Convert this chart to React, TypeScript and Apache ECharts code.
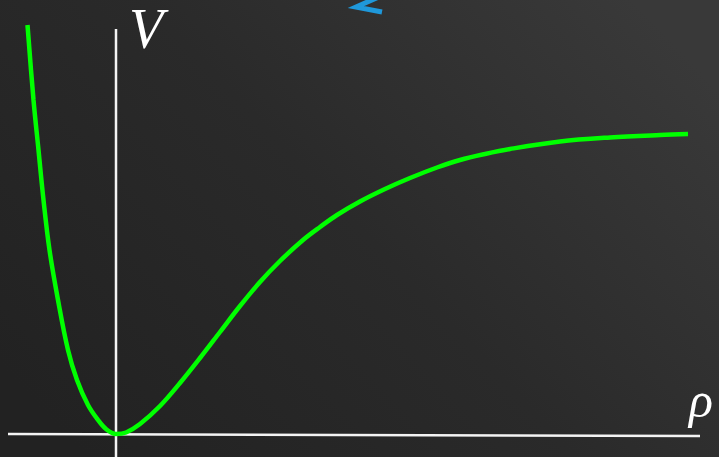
import React, { useEffect, useRef } from "react";
import * as echarts from "echarts";

// Potential curve V(ρ): steep repulsive wall on the left, well at ρ = 0,
// plateau approached on the right
const rho: number[] = [
  -0.885, -0.825, -0.775, -0.725, -0.665, -0.58, -0.48, -0.39, -0.28, -0.18, -0.1, 0,
  0.1, 0.24, 0.44, 0.64, 0.84, 1.04, 1.24, 1.44, 1.64, 1.87, 2.04, 2.21, 2.44, 2.69, 2.94,
  3.21, 3.44, 3.69, 3.94, 4.44, 4.94, 5.44, 5.72,
];
const potential: number[] = [
  4.09, 3.34, 2.84, 2.34, 1.84, 1.34, 0.84, 0.54, 0.29, 0.14, 0.05, 0,
  0.015, 0.1, 0.28, 0.51, 0.76, 1.02, 1.28, 1.52, 1.73, 1.94, 2.07, 2.19, 2.325, 2.45, 2.56,
  2.665, 2.74, 2.8, 2.85, 2.925, 2.965, 2.99, 3.0,
];

// Axis extents (data units)
const rhoAxisRange: number[] = [-1.08, 5.84];
const vAxisRange: number[] = [-0.23, 4.05];
const viewRho: number[] = [-1.08, 5.84];
const viewV: number[] = [-0.23, 4.34];

const axisLabels: string[] = ["V", "ρ"];

export default function App() {
  const ref = useRef<HTMLDivElement>(null);

  useEffect(() => {
    document.body.style.margin = "0";
    if (!ref.current) return;
    const chart = echarts.init(ref.current, null, { renderer: "svg" });

    const curve = rho.map((r, i) => [r, potential[i]]);
    const hAxis = [
      [rhoAxisRange[0], 0],
      [rhoAxisRange[1], -0.02],
    ];
    const vAxis = [
      [0, vAxisRange[0]],
      [0, vAxisRange[1]],
    ];

    chart.setOption({
      animation: false,
      grid: { left: 8, right: 19, top: 0, bottom: 0 },
      xAxis: { type: "value", min: viewRho[0], max: viewRho[1], show: false },
      yAxis: { type: "value", min: viewV[0], max: viewV[1], show: false },
      graphic: [
        {
          type: "rect",
          z: -10,
          silent: true,
          shape: { x: 0, y: 0, width: 719, height: 457 },
          style: {
            fill: new echarts.graphic.LinearGradient(0, 0.8, 1, 0.2, [
              { offset: 0, color: "#222222" },
              { offset: 0.5, color: "#2a2a2a" },
              { offset: 1, color: "#393939" },
            ]),
          },
        },
        {
          type: "polyline",
          silent: true,
          shape: { points: [[381, -4], [356, 7], [382, 12]] },
          style: { stroke: "#1f98da", lineWidth: 5, fill: "none", lineJoin: "miter" },
        },
        {
          type: "text",
          x: 129,
          y: 29,
          style: {
            text: axisLabels[0],
            fill: "#ffffff",
            font: "italic 56px Liberation Serif",
            lineHeight: 44,
            verticalAlign: "middle",
            align: "left",
          },
        },
        {
          type: "text",
          x: 689,
          y: 400,
          style: {
            text: axisLabels[1],
            fill: "#ffffff",
            font: "italic 50px Liberation Serif",
            verticalAlign: "middle",
            align: "left",
          },
        },
      ],
      series: [
        {
          type: "line",
          data: hAxis,
          symbol: "none",
          z: 1,
          lineStyle: { color: "#f4f4f4", width: 2.5 },
        },
        {
          type: "line",
          data: vAxis,
          symbol: "none",
          z: 1,
          lineStyle: { color: "#f4f4f4", width: 2.5 },
        },
        {
          type: "line",
          data: curve,
          symbol: "none",
          smooth: 0.35,
          z: 3,
          lineStyle: { color: "#00ff00", width: 4.5 },
        },
      ],
    });

    return () => chart.dispose();
  }, []);

  return (
    <div
      ref={ref}
      style={{ position: "absolute", left: 0, top: 0, width: 719, height: 457 }}
    />
  );
}
